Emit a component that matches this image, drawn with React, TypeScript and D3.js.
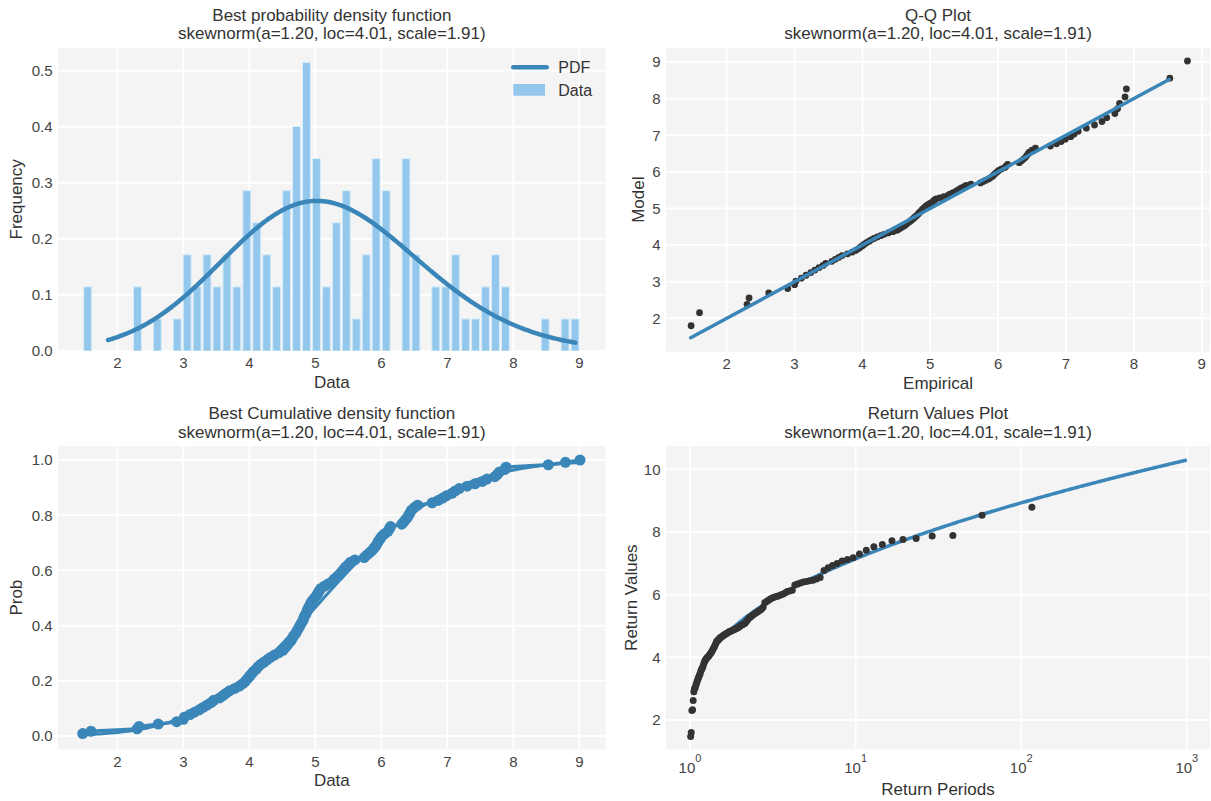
import React from 'react';
import * as d3 from 'd3';

// fitted model shown in every subtitle
const FIT_A = 1.2;
const FIT_LOC = 4.01;
const FIT_SCALE = 1.91;
const SUBTITLE = 'skewnorm(a=1.20, loc=4.01, scale=1.91)';

const SAMPLE = [
    1.476, 1.60,
    2.30, 2.33,
    2.62,
    2.90,
    3.00, 3.02, 3.10,
    3.17, 3.24,
    3.30, 3.36, 3.42,
    3.46, 3.55,
    3.60, 3.65, 3.70,
    3.78, 3.85,
    3.90, 3.94, 3.97, 4.00, 4.03,
    4.06, 4.10, 4.13, 4.17,
    4.22, 4.27, 4.32,
    4.38, 4.45,
    4.51, 4.54, 4.57, 4.60, 4.63,
    4.65, 4.67, 4.70, 4.72, 4.74, 4.76, 4.78,
    4.80, 4.82, 4.83, 4.85, 4.87, 4.88, 4.90, 4.92, 4.935,
    4.96, 4.99, 5.02, 5.04, 5.06, 5.085,
    5.14, 5.20,
    5.26, 5.29, 5.33, 5.37,
    5.40, 5.43, 5.46, 5.50, 5.53,
    5.60,
    5.74, 5.78, 5.82,
    5.86, 5.89, 5.92, 5.94, 5.96, 5.985,
    6.01, 6.05, 6.10, 6.12, 6.14,
    6.31, 6.34, 6.37, 6.40, 6.42, 6.44,
    6.46, 6.50, 6.55,
    6.77, 6.86,
    6.93, 6.99,
    7.07, 7.12, 7.18,
    7.30,
    7.42,
    7.53, 7.60,
    7.72, 7.76, 7.79,
    7.87, 7.89,
    8.53,
    8.79,
    9.011,
];
// the qq and return panels do not show the largest value
const QQ_SAMPLE = SAMPLE.slice(0, -1);

const N_BINS = 50;
const PDF_RANGE = [1.86, 8.94];
const QQ_LINE = [1.47, 8.52];
const RETURN_T_RANGE = [1.1, 1000];

const HIST_XLIM = [1.1015, 9.40];
const HIST_YLIM = [0, 0.541];
const QQ_XLIM = [1.106, 9.122];
const QQ_YLIM = [1.088, 9.39];
const CDF_XLIM = [1.1015, 9.40];
const CDF_YLIM = [-0.0482, 1.0507];
const RET_XLIM = [Math.pow(10, -0.145), Math.pow(10, 3.14)];
const RET_YLIM = [1.065, 10.743];

const INT_TICKS = [2, 3, 4, 5, 6, 7, 8, 9];
const HIST_Y_TICKS = [0, 0.1, 0.2, 0.3, 0.4, 0.5];
const CDF_Y_TICKS = [0, 0.2, 0.4, 0.6, 0.8, 1.0];
const RET_Y_TICKS = [2, 4, 6, 8, 10];
const RET_X_TICKS = [1, 10, 100, 1000];

const FONT = '"Liberation Sans", Arial, Helvetica, sans-serif';
const BLUE = '#3b86b9';
const BAR = '#93c8ec';
const DOT = '#333333';
const PANEL_BG = '#f4f4f4';
const TEXT = '#333333';
const TICK_TEXT = '#444444';

// ---- skewnorm helpers ----
function erf(x: number) {
    const s = x < 0 ? -1 : 1;
    const ax = Math.abs(x);
    const t = 1 / (1 + 0.3275911 * ax);
    const y = 1 - (((((1.061405429 * t - 1.453152027) * t) + 1.421413741) * t - 0.284496736) * t + 0.254829592) * t * Math.exp(-ax * ax);
    return s * y;
}
const normPdf = (z: number) => Math.exp(-z * z / 2) / Math.sqrt(2 * Math.PI);
const normCdf = (z: number) => 0.5 * (1 + erf(z / Math.SQRT2));
const skewPdf = (x: number) => {
    const z = (x - FIT_LOC) / FIT_SCALE;
    return 2 / FIT_SCALE * normPdf(z) * normCdf(FIT_A * z);
};

const STEP = 0.002;
const GRID_X = d3.range(FIT_LOC - 8 * FIT_SCALE, FIT_LOC + 9 * FIT_SCALE, STEP);
const GRID_CUM: number[] = [];
{
    let acc = 0;
    GRID_X.forEach((x, i) => {
        if (i > 0) acc += (skewPdf(GRID_X[i - 1]) + skewPdf(x)) / 2 * STEP;
        GRID_CUM.push(acc);
    });
}
function skewCdf(x: number) {
    const i = Math.min(Math.max(d3.bisectLeft(GRID_X, x), 1), GRID_X.length - 1);
    const f = (x - GRID_X[i - 1]) / (GRID_X[i] - GRID_X[i - 1]);
    return GRID_CUM[i - 1] + f * (GRID_CUM[i] - GRID_CUM[i - 1]);
}
function skewPpf(p: number) {
    const i = Math.min(Math.max(d3.bisectLeft(GRID_CUM, p), 1), GRID_CUM.length - 1);
    const f = (p - GRID_CUM[i - 1]) / ((GRID_CUM[i] - GRID_CUM[i - 1]) || 1);
    return GRID_X[i - 1] + f * (GRID_X[i] - GRID_X[i - 1]);
}

type Box = { l: number; r: number; t: number; b: number };
const BOX_HIST: Box = { l: 58, r: 605.7, t: 47.7, b: 351 };
const BOX_QQ: Box = { l: 666, r: 1210, t: 47.7, b: 351.7 };
const BOX_CDF: Box = { l: 58, r: 605.7, t: 446, b: 749.3 };
const BOX_RET: Box = { l: 666, r: 1210, t: 446, b: 749.3 };

interface FrameProps {
    id: string;
    box: Box;
    xs: any;
    ys: any;
    xTicks: number[];
    yTicks: number[];
    yFmt: (v: number) => string;
    title: string;
    xLabel: string;
    yLabel: string;
    yLabelGap: number;
    logX?: boolean;
    children?: React.ReactNode;
}

const Frame: React.FC<FrameProps> = ({ id, box, xs, ys, xTicks, yTicks, yFmt, title, xLabel, yLabel, yLabelGap, logX, children }) => {
    const cx = (box.l + box.r) / 2;
    const cy = (box.t + box.b) / 2;
    return (
        <g>
            <defs>
                <clipPath id={id}>
                    <rect x={box.l} y={box.t} width={box.r - box.l} height={box.b - box.t} />
                </clipPath>
            </defs>
            <rect x={box.l} y={box.t} width={box.r - box.l} height={box.b - box.t} fill={PANEL_BG} />
            {xTicks.map(t => (
                <line key={'gx' + t} x1={xs(t)} x2={xs(t)} y1={box.t} y2={box.b} stroke="#fff" strokeWidth={1.8} />
            ))}
            {yTicks.map(t => (
                <line key={'gy' + t} x1={box.l} x2={box.r} y1={ys(t)} y2={ys(t)} stroke="#fff" strokeWidth={1.8} />
            ))}
            <g clipPath={`url(#${id})`}>{children}</g>

            {yTicks.map(t => (
                <text key={'ty' + t} x={box.l - 5.5} y={ys(t) + 5.4} textAnchor="end" fontSize={15} fill={TICK_TEXT}>
                    {yFmt(t)}
                </text>
            ))}
            {xTicks.map(t => logX ? (
                <text key={'tx' + t} x={xs(t)} y={box.b + 23.5} textAnchor="middle" fontSize={15} fill={TICK_TEXT}>
                    <tspan>10</tspan>
                    <tspan dy={-11} fontSize={11}>{Math.round(Math.log10(t))}</tspan>
                </text>
            ) : (
                <text key={'tx' + t} x={xs(t)} y={box.b + 17.3} textAnchor="middle" fontSize={15} fill={TICK_TEXT}>
                    {t}
                </text>
            ))}

            <text x={cx} y={box.t - 27} textAnchor="middle" fontSize={17} fill={TEXT}>{title}</text>
            <text x={cx} y={box.t - 8.5} textAnchor="middle" fontSize={17} fill={TEXT}>{SUBTITLE}</text>

            <text x={cx} y={box.b + (logX ? 45.7 : 37)} textAnchor="middle" fontSize={17} fill={TEXT}>{xLabel}</text>
            <text transform={`translate(${box.l - yLabelGap},${cy}) rotate(-90)`} textAnchor="middle" fontSize={17} fill={TEXT}>
                {yLabel}
            </text>
        </g>
    );
};

const fmt1 = d3.format('.1f');
const fmtInt = (v: number) => String(v);

const App: React.FC = () => {
    const n = SAMPLE.length;
    const [lo, hi] = d3.extent(SAMPLE) as [number, number];
    const binW = (hi - lo) / N_BINS;

    // ---- histogram panel ----
    const hx = d3.scaleLinear().domain(HIST_XLIM).range([BOX_HIST.l, BOX_HIST.r]);
    const hy = d3.scaleLinear().domain(HIST_YLIM).range([BOX_HIST.b, BOX_HIST.t]);
    const bins = d3.bin()
        .domain([lo, hi])
        .thresholds(d3.range(1, N_BINS).map(i => lo + i * binW))(SAMPLE);
    const pdfXs = d3.range(PDF_RANGE[0], PDF_RANGE[1] + 1e-9, (PDF_RANGE[1] - PDF_RANGE[0]) / 200);
    const pdfPath = d3.line<number>().x(d => hx(d)).y(d => hy(skewPdf(d)))(pdfXs) || '';

    // ---- qq panel ----
    const qx = d3.scaleLinear().domain(QQ_XLIM).range([BOX_QQ.l, BOX_QQ.r]);
    const qy = d3.scaleLinear().domain(QQ_YLIM).range([BOX_QQ.b, BOX_QQ.t]);
    const nq = QQ_SAMPLE.length;
    const qqPts = QQ_SAMPLE.map((v, i) => ({ x: v, y: skewPpf((i + 1) / (nq + 1)) }));

    // ---- cdf panel ----
    const cx = d3.scaleLinear().domain(CDF_XLIM).range([BOX_CDF.l, BOX_CDF.r]);
    const cy = d3.scaleLinear().domain(CDF_YLIM).range([BOX_CDF.b, BOX_CDF.t]);
    const ecdf = SAMPLE.map((v, i) => ({ x: v, y: (i + 1) / n }));
    const ecdfPath = d3.line<{ x: number; y: number }>().x(d => cx(d.x)).y(d => cy(d.y))(ecdf) || '';
    const modelCdfXs = d3.range(lo, hi + 1e-9, (hi - lo) / 200);
    const modelCdfPath = d3.line<number>().x(d => cx(d)).y(d => cy(skewCdf(d)))(modelCdfXs) || '';

    // ---- return value panel ----
    const rx = d3.scaleLog().domain(RET_XLIM).range([BOX_RET.l, BOX_RET.r]);
    const ry = d3.scaleLinear().domain(RET_YLIM).range([BOX_RET.b, BOX_RET.t]);
    const desc = [...QQ_SAMPLE].sort((a, b) => b - a);
    const retPts = desc.map((v, i) => ({ t: (nq + 1) / (i + 1), v }));
    const lt0 = Math.log10(RETURN_T_RANGE[0]);
    const lt1 = Math.log10(RETURN_T_RANGE[1]);
    const retTs = d3.range(0, 301).map(k => Math.pow(10, lt0 + (lt1 - lt0) * k / 300));
    const retPath = d3.line<number>().x(d => rx(d)).y(d => ry(skewPpf(1 - 1 / d)))(retTs) || '';

    const legX = BOX_HIST.r - 92.4;
    const legY = BOX_HIST.t;

    return (
        <svg width={1211} height={801} style={{ position: 'absolute', left: 0, top: 0, background: '#fff' }} fontFamily={FONT}>
            <Frame id="clipHist" box={BOX_HIST} xs={hx} ys={hy} xTicks={INT_TICKS} yTicks={HIST_Y_TICKS} yFmt={fmt1}
                title="Best probability density function" xLabel="Data" yLabel="Frequency" yLabelGap={36}>
                {bins.filter(b => b.length > 0).map((b, i) => {
                    const x0 = hx(b.x0 as number);
                    const x1 = hx(b.x1 as number);
                    const w = (x1 - x0) * 0.8;
                    const dens = b.length / (n * binW);
                    return (
                        <rect key={i} x={(x0 + x1) / 2 - w / 2} y={hy(dens)} width={w} height={hy(0) - hy(dens)}
                            fill={BAR} stroke="#d8ecf9" strokeWidth={1} />
                    );
                })}
                <path d={pdfPath} fill="none" stroke={BLUE} strokeWidth={4.5} strokeLinecap="round" />
            </Frame>

            {/* legend */}
            <g>
                <line x1={legX} x2={legX + 33.4} y1={legY + 19.6} y2={legY + 19.6} stroke={BLUE} strokeWidth={4.5} strokeLinecap="round" />
                <text x={legX + 45} y={legY + 25.3} fontSize={16} fill={TEXT}>PDF</text>
                <rect x={legX} y={legY + 36.3} width={31.7} height={11.7} fill={BAR} />
                <text x={legX + 45} y={legY + 48.3} fontSize={16} fill={TEXT}>Data</text>
            </g>

            <Frame id="clipQQ" box={BOX_QQ} xs={qx} ys={qy} xTicks={INT_TICKS} yTicks={INT_TICKS} yFmt={fmtInt}
                title="Q-Q Plot" xLabel="Empirical" yLabel="Model" yLabelGap={22}>
                {qqPts.map((p, i) => (
                    <circle key={i} cx={qx(p.x)} cy={qy(p.y)} r={3.4} fill={DOT} />
                ))}
                <line x1={qx(QQ_LINE[0])} y1={qy(QQ_LINE[0])} x2={qx(QQ_LINE[1])} y2={qy(QQ_LINE[1])}
                    stroke={BLUE} strokeWidth={3.5} strokeLinecap="round" />
            </Frame>

            <Frame id="clipCDF" box={BOX_CDF} xs={cx} ys={cy} xTicks={INT_TICKS} yTicks={CDF_Y_TICKS} yFmt={fmt1}
                title="Best Cumulative density function" xLabel="Data" yLabel="Prob" yLabelGap={36}>
                <path d={modelCdfPath} fill="none" stroke={BLUE} strokeWidth={3} />
                <path d={ecdfPath} fill="none" stroke={BLUE} strokeWidth={3.4} />
                {ecdf.map((p, i) => (
                    <circle key={i} cx={cx(p.x)} cy={cy(p.y)} r={5.5} fill={BLUE} />
                ))}
            </Frame>

            <Frame id="clipRet" box={BOX_RET} xs={rx} ys={ry} xTicks={RET_X_TICKS} yTicks={RET_Y_TICKS} yFmt={fmtInt}
                title="Return Values Plot" xLabel="Return Periods" yLabel="Return Values" yLabelGap={29} logX>
                <path d={retPath} fill="none" stroke={BLUE} strokeWidth={3.5} />
                {retPts.map((p, i) => (
                    <circle key={i} cx={rx(p.t)} cy={ry(p.v)} r={3.5} fill={DOT} />
                ))}
            </Frame>
        </svg>
    );
};

export default App;
